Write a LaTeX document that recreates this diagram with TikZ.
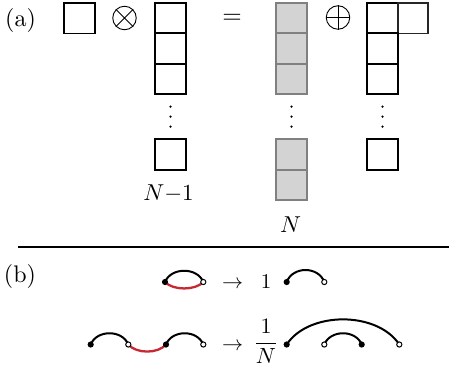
\RequirePackage{fix-cm}
\documentclass[tikz,border=0pt]{standalone}
\definecolor{myred}{RGB}{200,40,50}
\definecolor{cellgray}{RGB}{211,211,211}
\definecolor{edgegray}{RGB}{128,128,128}
\newcommand\sbx[2]{\scalebox{#1}{#2}}
\begin{document}
\begin{tikzpicture}[x=1pt,y=-1pt,
  cell/.style={draw=black, line width=1.8pt, minimum width=30.4pt, minimum height=30.4pt, inner sep=0pt, outer sep=0pt},
  gcell/.style={cell, draw=edgegray, fill=cellgray},
  lbl/.style={inner sep=0pt, anchor=base, font=\fontsize{10}{12}\selectfont},
  opsym/.style={circle, draw=black, line width=0.9pt, minimum size=23.5pt, inner sep=0pt},
  vdot/.style={circle, fill=black, inner sep=0pt, minimum size=2.5pt},
  fdot/.style={circle, fill=black, inner sep=0pt, minimum size=6.2pt},
  odot/.style={circle, draw=black, fill=white, line width=1pt, inner sep=0pt, minimum size=5.2pt},
  arcl/.style={line width=2pt, line cap=round},
  redarc/.style={line width=2.3pt, draw=myred, line cap=round},
  rule/.style={line width=2pt}]
\useasboundingbox (0,0) rectangle (449,372);

% ---------- (a) ----------
\node[lbl] (la) at (20.5,26.5) {\sbx{2.4}{(a)}};
\node[cell] (b0) at (79.5,18.2) {};
\node[opsym] (otimes) at (124.5,18) {};
\draw[line width=0.9pt] (otimes.45) -- (otimes.225) (otimes.135) -- (otimes.315);

% column N-1
\node[cell] (c1) at (170.5,18.2) {};
\node[cell] (c2) at (170.5,48.5) {};
\node[cell] (c3) at (170.5,78.8) {};
\node[vdot] (d11) at (170.5,106.7) {};
\node[vdot] (d12) at (170.5,116.7) {};
\node[vdot] (d13) at (170.5,126.7) {};
\node[cell] (c4) at (170.5,154.5) {};
\node[lbl] (nm1) at (168.5,200.7) {\sbx{2.3}{$N{-}1$}};

\node[lbl] (eq) at (232,23.5) {\sbx{2.5}{$=$}};

% gray column N
\node[gcell] (g1) at (291.5,18.2) {};
\node[gcell] (g2) at (291.5,48.5) {};
\node[gcell] (g3) at (291.5,78.8) {};
\node[vdot] (d21) at (291.5,106.7) {};
\node[vdot] (d22) at (291.5,116.7) {};
\node[vdot] (d23) at (291.5,126.7) {};
\node[gcell] (g4) at (291.5,154.5) {};
\node[gcell] (g5) at (291.5,184.9) {};
\node[lbl] (nn) at (290.5,232.5) {\sbx{2.3}{$N$}};

\node[opsym] (oplus) at (338,17.5) {};
\draw[line width=0.9pt] (oplus.north) -- (oplus.south) (oplus.west) -- (oplus.east);

% right column
\node[cell] (r1) at (382.5,18.2) {};
\node[cell, draw=black!85] (r1b) at (412.9,18.2) {};
\node[cell] (r2) at (382.5,48.5) {};
\node[cell] (r3) at (382.5,78.8) {};
\node[vdot] (d31) at (382.5,106.7) {};
\node[vdot] (d32) at (382.5,116.7) {};
\node[vdot] (d33) at (382.5,126.7) {};
\node[cell] (r4) at (382.5,154.5) {};

% separator
\coordinate (sl) at (18.3,246.7);
\coordinate (sr) at (449,246.7);
\draw[rule] (sl) -- (sr);

% ---------- (b) ----------
\node[lbl] (lb) at (20,282.5) {\sbx{2.4}{(b)}};

% row 1
\coordinate (p1) at (165,282);
\coordinate (p2) at (203.3,282);
\coordinate (q1) at (286.7,282);
\coordinate (q2) at (324.3,282);
\draw[arcl] (p1) .. controls +(6,-15) and +(-6,-15) .. (p2);
\draw[redarc] (p1) .. controls +(8,8.6) and +(-8,8.6) .. (p2);
\draw[arcl] (q1) .. controls +(6,-16) and +(-6,-16) .. (q2);
\node[fdot] at (p1) {};
\node[odot] at (p2) {};
\node[fdot] at (q1) {};
\node[odot] at (q2) {};
\node[lbl] (ar1) at (232.5,288) {\sbx{2.1}{$\rightarrow$}};
\node[lbl] (one) at (266,288.3) {\sbx{2.1}{$1$}};

% row 2
\coordinate (s1) at (90.7,344.5);
\coordinate (s2) at (128.3,344.5);
\coordinate (s3) at (166,344.5);
\coordinate (s4) at (203.3,344.5);
\coordinate (t1) at (286.7,344.5);
\coordinate (t2) at (324.3,344.5);
\coordinate (t3) at (361.7,344.5);
\coordinate (t4) at (399.3,344.5);
\draw[arcl] (s1) .. controls +(6,-15) and +(-6,-15) .. (s2);
\draw[redarc] (s2) .. controls +(8,9.4) and +(-8,9.4) .. (s3);
\draw[arcl] (s3) .. controls +(6,-15) and +(-6,-15) .. (s4);
\draw[arcl] (t1) .. controls +(22,-33.5) and +(-22,-33.5) .. (t4);
\draw[arcl] (t2) .. controls +(6,-15) and +(-6,-15) .. (t3);
\node[fdot] at (s1) {};
\node[odot] at (s2) {};
\node[fdot] at (s3) {};
\node[odot] at (s4) {};
\node[fdot] at (t1) {};
\node[odot] at (t2) {};
\node[fdot] at (t3) {};
\node[odot] at (t4) {};
\node[lbl] (ar2) at (232.5,350.5) {\sbx{2.1}{$\rightarrow$}};
\node[lbl] (frac) at (266,348.5) {\sbx{2.2}{$\displaystyle\frac{1}{N}$}};
\end{tikzpicture}
\end{document}
